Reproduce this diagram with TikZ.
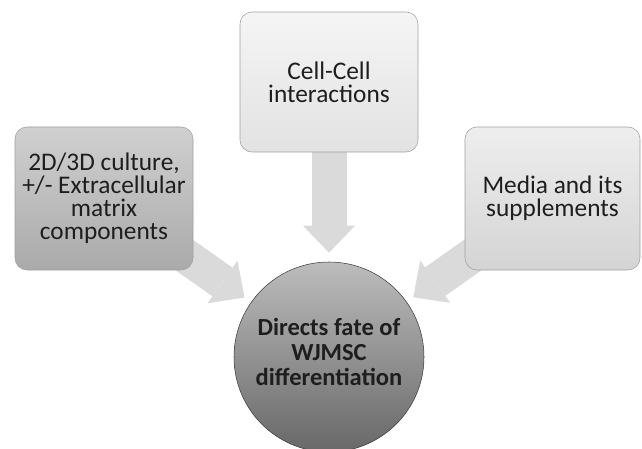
\documentclass[tikz,border=0pt]{standalone}
\usepackage{fontspec}
\setmainfont{Carlito}
\usetikzlibrary{arrows.meta,backgrounds}

\definecolor{boxline}{RGB}{160,160,160}
\definecolor{arrowgray}{RGB}{218,218,218}
\definecolor{inktext}{RGB}{30,30,30}

\begin{document}
\begin{tikzpicture}[x=0.75pt,y=-0.75pt,text=inktext,
    font=\fontsize{19}{17.25}\selectfont]
  \tikzstyle{box}=[draw=boxline,rounded corners=9pt,align=center,inner sep=0pt,
    minimum width=133.5pt,minimum height=107.25pt]
  \tikzstyle{flow}=[draw=arrowgray,line width=26.25pt,shorten >=6pt,
    -{Triangle[width=39pt,length=20.25pt,line width=0pt]}]

  \useasboundingbox (0,0) rectangle (642,449);

  \node[box,top color={rgb,255:red,208;green,208;blue,208},
    bottom color={rgb,255:red,170;green,170;blue,170}] (E) at (104,198.5)
    {2D/3D culture,\\+/- Extracellular\\matrix\\components};
  \node[box,minimum height=105pt,top color={rgb,255:red,245;green,245;blue,245},
    bottom color={rgb,255:red,226;green,226;blue,226}] (C) at (329,82)
    {Cell-Cell\\interactions};
  \node[box,minimum width=131.25pt,top color={rgb,255:red,238;green,238;blue,238},
    bottom color={rgb,255:red,212;green,212;blue,212}] (M) at (552.5,198.5)
    {Media and its\\supplements};
  \node[circle,draw={rgb,255:red,60;green,60;blue,60},minimum size=142.5pt,
    inner sep=0pt,align=center,top color={rgb,255:red,188;green,188;blue,188},
    bottom color={rgb,255:red,104;green,104;blue,104},
    font=\fontsize{18.4}{19}\selectfont\bfseries] (D) at (329,357)
    {Directs fate of\\WJMSC\\differentiation\\[-11.5pt]};

  \begin{scope}[on background layer]
    \draw[flow] (E.center) -- (D);
    \draw[flow,shorten >=6.75pt] (C.center) -- (D);
    \draw[flow] (M.center) -- (D);
  \end{scope}
\end{tikzpicture}
\end{document}
